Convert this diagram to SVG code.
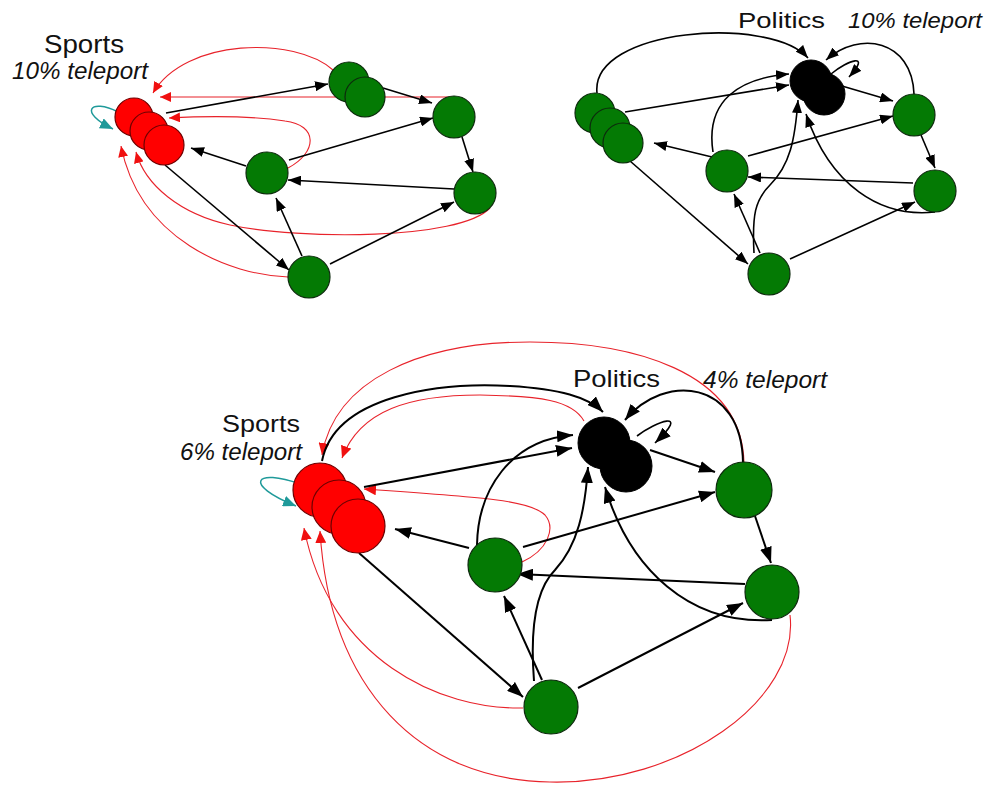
<svg xmlns="http://www.w3.org/2000/svg" width="996" height="787" viewBox="0 0 996 787">
<defs>
<style>
.bk{fill:none;stroke:#000;stroke-width:1.6}
.bk2{fill:none;stroke:#000;stroke-width:2}
.rd{fill:none;stroke:#e8232b;stroke-width:1.1}
.tl{fill:none;stroke:#1f9a9a;stroke-width:1.5}
.g{fill:#047a04;stroke:#0d2a0d;stroke-width:1.2}
.r{fill:#ff0000;stroke:#6e0000;stroke-width:1.2}
.p{fill:#000;stroke:#000;stroke-width:1}
.lbl{font-family:"Liberation Sans",Arial,sans-serif;fill:#111}
.it{font-style:italic}
</style>
<marker id="a1" viewBox="0 0 13 10" refX="13" refY="5" markerWidth="13" markerHeight="10" markerUnits="userSpaceOnUse" orient="auto"><path d="M0,0 L13,5 L0,10 z" fill="#000"/></marker>
<marker id="a2" viewBox="0 0 16 12" refX="16" refY="6" markerWidth="16" markerHeight="12" markerUnits="userSpaceOnUse" orient="auto"><path d="M0,0 L16,6 L0,12 z" fill="#000"/></marker>
<marker id="r1" viewBox="0 0 11 10" refX="11" refY="5" markerWidth="11" markerHeight="10" markerUnits="userSpaceOnUse" orient="auto"><path d="M0,0 L11,5 L0,10 z" fill="#f01010"/></marker>
<marker id="r2" viewBox="0 0 12 11" refX="12" refY="5.5" markerWidth="12" markerHeight="11" markerUnits="userSpaceOnUse" orient="auto"><path d="M0,0 L12,5.5 L0,11 z" fill="#f01010"/></marker>
<marker id="t1" viewBox="0 0 13 11" refX="13" refY="5.5" markerWidth="13" markerHeight="11" markerUnits="userSpaceOnUse" orient="auto"><path d="M0,0 L13,5.5 L0,11 z" fill="#1f9a9a"/></marker>
</defs>

<g id="connectors">
<!-- top-left graph -->
<path class="rd" marker-end="url(#r1)" d="M333,70 C295,36 185,38 153,93"/>
<path class="rd" marker-end="url(#r1)" d="M452,97 L160,97"/>
<path class="rd" marker-end="url(#r1)" d="M288,168 C318,152 318,125 285,121 C245,115 205,116 169,118"/>
<path class="rd" marker-end="url(#r1)" d="M490,208 C460,240 300,240 230,225 C180,214 145,185 136,152"/>
<path class="rd" marker-end="url(#r1)" d="M288,277 C230,275 140,240 121,146"/>
<path class="tl" marker-end="url(#t1)" d="M118,112 C90,98 78,112 113,129"/>
<path class="bk" marker-end="url(#a1)" d="M166,113 L328,84"/>
<path class="bk" marker-end="url(#a1)" d="M383,88 L432,103"/>
<path class="bk" marker-end="url(#a1)" d="M289,160 L433,118"/>
<path class="bk" marker-end="url(#a1)" d="M462,137 L473,172"/>
<path class="bk" marker-end="url(#a1)" d="M454,189 L288,180"/>
<path class="bk" marker-end="url(#a1)" d="M302,256 L276,198"/>
<path class="bk" marker-end="url(#a1)" d="M330,264 L454,202"/>
<path class="bk" marker-end="url(#a1)" d="M246,166 L191,148"/>
<path class="bk" marker-end="url(#a1)" d="M165,165 L289,270"/>

<!-- top-right graph -->
<path class="bk" marker-end="url(#a1)" d="M597,93 C590,28 770,15 808,58"/>
<path class="bk" marker-end="url(#a1)" d="M625,112 L789,85"/>
<path class="bk" marker-end="url(#a1)" d="M713,152 C705,100 740,78 789,74"/>
<path class="bk" marker-end="url(#a1)" d="M842,86 L893,101"/>
<path class="bk" marker-end="url(#a1)" d="M748,156 L893,116"/>
<path class="bk" marker-end="url(#a1)" d="M921,135 L935,168"/>
<path class="bk" marker-end="url(#a1)" d="M913,183 L748,177"/>
<path class="bk" marker-end="url(#a1)" d="M712,157 L654,143"/>
<path class="bk" marker-end="url(#a1)" d="M630,161 L748,264"/>
<path class="bk" marker-end="url(#a1)" d="M760,253 L734,194"/>
<path class="bk" marker-end="url(#a1)" d="M790,259 L915,202"/>
<path class="bk" marker-end="url(#a1)" d="M754,253 C752,215 755,200 770,185 C790,165 795,140 798,100"/>
<path class="bk" marker-end="url(#a1)" d="M935,212 C880,218 830,185 806,114"/>
<path class="bk" marker-end="url(#a1)" d="M914,94 C912,40 860,30 826,60"/>
<path class="bk" marker-end="url(#a1)" d="M831,74 C848,60 872,52 849,77"/>

<!-- bottom graph -->
<path class="rd" marker-end="url(#r2)" d="M744,463 C742,370 630,342 530,342 C420,342 335,380 322,455"/>
<path class="rd" marker-end="url(#r2)" d="M584,421 C572,400 540,396 480,395 C410,395 360,410 342,458"/>
<path class="rd" marker-end="url(#r2)" d="M522,562 C548,550 556,528 545,515 C530,500 480,497 364,489"/>
<path class="rd" marker-end="url(#r2)" d="M523,708 C440,710 330,660 304,528"/>
<path class="rd" marker-end="url(#r2)" d="M790,615 C800,700 680,785 550,782 C420,780 330,690 320,531"/>
<path class="tl" marker-end="url(#t1)" d="M300,484 C255,468 242,484 296,506"/>
<path class="bk2" marker-end="url(#a2)" d="M364,487 L572,448"/>
<path class="bk2" marker-end="url(#a2)" d="M477,545 C478,490 510,440 573,435"/>
<path class="bk2" marker-end="url(#a2)" d="M322,461 C335,395 440,382 510,386 C560,389 588,397 603,412"/>
<path class="bk2" marker-end="url(#a2)" d="M743,463 C742,380 665,372 625,420"/>
<path class="bk" marker-end="url(#a2)" d="M637,436 C655,422 692,408 655,443"/>
<path class="bk2" marker-end="url(#a2)" d="M650,450 L715,472"/>
<path class="bk2" marker-end="url(#a2)" d="M523,547 L715,492"/>
<path class="bk2" marker-end="url(#a2)" d="M755,516 L771,563"/>
<path class="bk2" marker-end="url(#a2)" d="M745,584 L517,574"/>
<path class="bk2" marker-end="url(#a2)" d="M469,548 L395,529"/>
<path class="bk2" marker-end="url(#a2)" d="M359,553 L523,697"/>
<path class="bk2" marker-end="url(#a2)" d="M542,680 L504,596"/>
<path class="bk2" marker-end="url(#a2)" d="M578,688 L743,603"/>
<path class="bk2" marker-end="url(#a2)" d="M534,681 C530,630 535,590 555,570 C578,545 585,510 588,467"/>
<path class="bk2" marker-end="url(#a2)" d="M772,620 C690,625 630,570 605,487"/>
</g>

<!-- top-left nodes -->
<g id="tl-sports"><circle class="r" cx="134" cy="117" r="19"/><circle class="r" cx="149" cy="131" r="19"/><circle class="r" cx="164" cy="145" r="20"/></g>
<g id="tl-a"><circle class="g" cx="349" cy="82" r="20"/><circle class="g" cx="365" cy="97" r="20"/></g>
<g id="tl-b"><circle class="g" cx="454" cy="117" r="21"/></g>
<g id="tl-c"><circle class="g" cx="267" cy="173" r="21"/></g>
<g id="tl-d"><circle class="g" cx="475" cy="193" r="21"/></g>
<g id="tl-e"><circle class="g" cx="309" cy="277" r="21"/></g>

<!-- top-right nodes -->
<g id="tr-politics"><circle class="p" cx="811" cy="81" r="21"/><circle class="p" cx="824" cy="94" r="21"/></g>
<g id="tr-cluster"><circle class="g" cx="595" cy="113" r="20"/><circle class="g" cx="610" cy="128" r="20"/><circle class="g" cx="623" cy="143" r="20"/></g>
<g id="tr-q"><circle class="g" cx="914" cy="115" r="21"/></g>
<g id="tr-r"><circle class="g" cx="727" cy="171" r="21"/></g>
<g id="tr-s"><circle class="g" cx="935" cy="191" r="21"/></g>
<g id="tr-t"><circle class="g" cx="769" cy="274" r="21"/></g>

<!-- bottom nodes -->
<g id="b-sports"><circle class="r" cx="320" cy="490" r="27"/><circle class="r" cx="339" cy="507" r="27"/><circle class="r" cx="358" cy="526" r="27"/></g>
<g id="b-politics"><circle class="p" cx="604" cy="443" r="26"/><circle class="p" cx="626" cy="466" r="26"/></g>
<g id="b-q"><circle class="g" cx="744" cy="490" r="28"/></g>
<g id="b-r"><circle class="g" cx="495" cy="565" r="27"/></g>
<g id="b-s"><circle class="g" cx="772" cy="592" r="27"/></g>
<g id="b-t"><circle class="g" cx="551" cy="707" r="27"/></g>

<g id="labels">
<text class="lbl" x="44" y="53" font-size="25" textLength="80" lengthAdjust="spacingAndGlyphs">Sports</text>
<text class="lbl it" x="12" y="79" font-size="23" textLength="136" lengthAdjust="spacingAndGlyphs">10% teleport</text>
<text class="lbl" x="738" y="28" font-size="22" textLength="87" lengthAdjust="spacingAndGlyphs">Politics</text>
<text class="lbl it" x="848" y="28" font-size="22" textLength="134" lengthAdjust="spacingAndGlyphs">10% teleport</text>
<text class="lbl" x="573" y="387" font-size="24" textLength="87" lengthAdjust="spacingAndGlyphs">Politics</text>
<text class="lbl it" x="703" y="388" font-size="24" textLength="124" lengthAdjust="spacingAndGlyphs">4% teleport</text>
<text class="lbl" x="222" y="432" font-size="24" textLength="78" lengthAdjust="spacingAndGlyphs">Sports</text>
<text class="lbl it" x="180" y="460" font-size="23" textLength="122" lengthAdjust="spacingAndGlyphs">6% teleport</text>
</g>
</svg>
